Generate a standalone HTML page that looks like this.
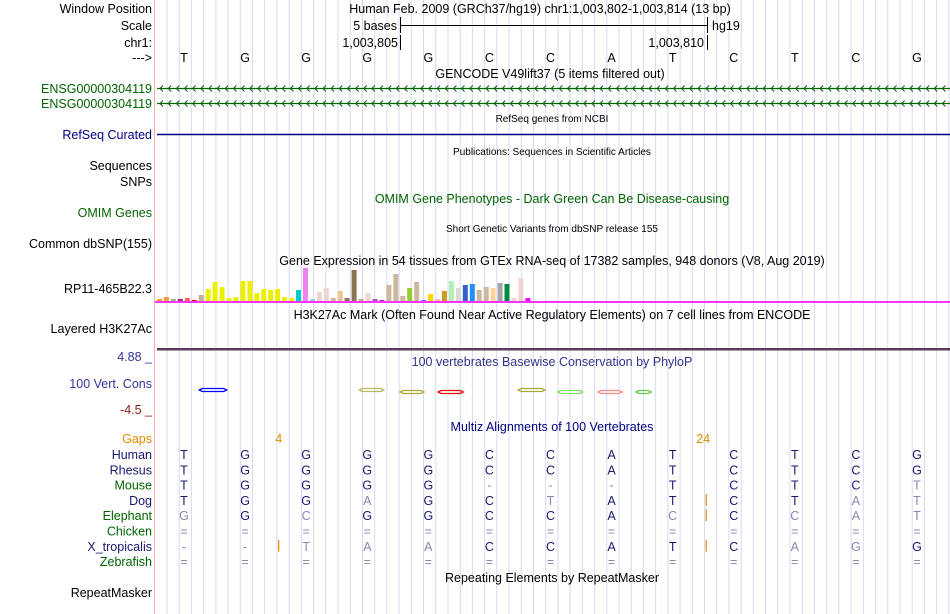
<!DOCTYPE html>
<html><head><meta charset="utf-8"><style>
html,body{margin:0;padding:0;background:#fff;}
svg{display:block;font-family:"Liberation Sans",sans-serif;}
</style></head><body>
<svg id="c" width="950" height="614" xmlns="http://www.w3.org/2000/svg">
<g id="grid"></g>
<line x1="154.5" y1="0" x2="154.5" y2="614" stroke="#ffaaaa" stroke-width="1"/>
<g font-size="12.5" fill="#000" text-anchor="end">
<text x="152" y="13">Window Position</text>
<text x="152" y="30">Scale</text>
<text x="152" y="47">chr1:</text>
<text x="152" y="62">---&gt;</text>
<text x="152" y="93" fill="#006400">ENSG00000304119</text>
<text x="152" y="108" fill="#006400">ENSG00000304119</text>
<text x="152" y="139" fill="#000080">RefSeq Curated</text>
<text x="152" y="170">Sequences</text>
<text x="152" y="186">SNPs</text>
<text x="152" y="217" fill="#006400">OMIM Genes</text>
<text x="152" y="248">Common dbSNP(155)</text>
<text x="152" y="293">RP11-465B22.3</text>
<text x="152" y="333">Layered H3K27Ac</text>
<text x="152" y="361" fill="#333399">4.88 _</text>
<text x="152" y="388" fill="#333399">100 Vert. Cons</text>
<text x="152" y="414" fill="#8b1a1a">-4.5 _</text>
<text x="152" y="443" fill="#e08a00">Gaps</text>
<text x="152" y="597">RepeatMasker</text>
</g>
<g font-size="12.5" text-anchor="middle">
<text x="540" y="13">Human Feb. 2009 (GRCh37/hg19)   chr1:1,003,802-1,003,814 (13 bp)</text>
<text x="550" y="78">GENCODE V49lift37 (5 items filtered out)</text>
<text x="552" y="122" font-size="10">RefSeq genes from NCBI</text>
<text x="552" y="155" font-size="10">Publications: Sequences in Scientific Articles</text>
<text x="552" y="203" fill="#006400">OMIM Gene Phenotypes - Dark Green Can Be Disease-causing</text>
<text x="552" y="232" font-size="10">Short Genetic Variants from dbSNP release 155</text>
<text x="552" y="265">Gene Expression in 54 tissues from GTEx RNA-seq of 17382 samples, 948 donors (V8, Aug 2019)</text>
<text x="552" y="319">H3K27Ac Mark (Often Found Near Active Regulatory Elements) on 7 cell lines from ENCODE</text>
<text x="552" y="366" fill="#333388">100 vertebrates Basewise Conservation by PhyloP</text>
<text x="552" y="431" fill="#000080">Multiz Alignments of 100 Vertebrates</text>
<text x="552" y="582">Repeating Elements by RepeatMasker</text>
</g>
<g stroke="#000">
<line x1="400.5" y1="17" x2="400.5" y2="33"/><line x1="400" y1="25.5" x2="707" y2="25.5"/><line x1="707.5" y1="17" x2="707.5" y2="33"/>
<line x1="400.5" y1="35" x2="400.5" y2="50"/><line x1="707.5" y1="35" x2="707.5" y2="50"/>
</g>
<g font-size="12.5">
<text x="397" y="30" text-anchor="end">5 bases</text>
<text x="712" y="30">hg19</text>
<text x="398" y="47" text-anchor="end">1,003,805</text>
<text x="704" y="47" text-anchor="end">1,003,810</text>
</g>
<g id="bases" font-size="12.5" text-anchor="middle"></g>
<g id="genes"></g>
<line x1="157" y1="134.5" x2="950" y2="134.5" stroke="#000080" stroke-width="1.5"/>
<g id="gtex"></g>
<rect x="155" y="301" width="795" height="2" fill="#ff33ff"/>
<rect x="157" y="348" width="793" height="2.5" fill="#5a3a55"/>
<g id="cons"></g>
<g id="align" font-size="12.5" text-anchor="middle"></g>
</svg>
<script>
const bases = ["T","G","G","G","G","C","C","A","T","C","T","C","G"];
const gtexValues = [2,4,2,2,3,1,6,12,19,14,3,4,20,20,8,12,11,12,4,3,11,33,2,9,13,3,10,3,31,2,8,2,1,16,27,5,13,19,1,7,2,10,20,13,16,17,11,14,13,18,17,3,23,3];
const gtexColors = ["#ff9933","#ff9933","#88bb88","#993366","#ff6655","#ff0000","#c4ae96","#eeee00","#eeee00","#eeee00","#eeee00","#eeee00","#eeee00","#eeee00","#eeee00","#eeee00","#eeee00","#eeee00","#eeee00","#eeee00","#00cccc","#ee82ee","#99cccc","#eed5d2","#eed5d2","#cdb79e","#eec591","#8b7355","#8b7355","#cdaa7d","#eed5d2","#b452cd","#9932cc","#cdb79e","#cdb79e","#cdb79e","#9acd32","#cdb79e","#7777ff","#ffd700","#ffb6c1","#cd9b1d","#b4eeb4","#d9d9d9","#3a5fcd","#1e90ff","#cdb79e","#cdb79e","#ffd39b","#a6a6a6","#008b45","#eed5d2","#eed5d2","#ff00ff"];
const species = ["Human","Rhesus","Mouse","Dog","Elephant","Chicken","X_tropicalis","Zebrafish"];
const speciesColors = ["#191970","#191970","#006400","#191970","#006400","#006400","#191970","#006400"];
const alignRows = [
 "TGGGGCCATCTCG",
 "TGGGGCCATCTCG",
 "TGGGG---TCTCt",
 "TGGaGCtATCTat",
 "gGcGGCCAcCcat",
 "=============",
 "--taaCCATCagG",
 "============="
];
const gapLabels = [["4",1.55],["24",8.5]];
const gapBars = [[6,1.55],[3,8.55],[4,8.55],[6,8.55]];
const consStart = [0.25,2.87,3.54,4.16,5.47,6.12,6.78,7.4];
const consEnd = [0.7,3.27,3.93,4.57,5.91,6.53,7.17,7.65];
const consValues = [0,0,2,2,0,2,2,2];
const consColors = ["#0000ff","#b8b860","#aaaa33","#ff0000","#aaaa33","#88dd66","#ff8888","#66cc44"];

const NS="http://www.w3.org/2000/svg";
const X0=184, BW=61.08;
function bx(i){return X0+BW*i;}
function mk(tag,attrs,parent){const e=document.createElementNS(NS,tag);for(const k in attrs)e.setAttribute(k,attrs[k]);parent.appendChild(e);return e;}

const grid=document.getElementById('grid');
for(let x=167;x<950;x+=12.216){
 const l=mk('line',{x1:x.toFixed(1),y1:0,x2:x.toFixed(1),y2:614,stroke:'#d8d8f4','stroke-width':1},grid);
 
 
}
const bg=document.getElementById('bases');
bases.forEach((b,i)=>{const t=mk('text',{x:bx(i),y:62},bg);t.textContent=b;
 
 });

const genes=document.getElementById('genes');
[88,103].forEach((y,k)=>{
 const l=mk('line',{x1:157,y1:y+0.5,x2:950,y2:y+0.5,stroke:'#006400','stroke-width':1.3},genes);
 
 
 let d='';for(let x=160;x<948;x+=8.15){d+=`M${(x+3).toFixed(1)} ${y-2.5}L${x.toFixed(1)} ${y+0.5}L${(x+3).toFixed(1)} ${y+3.5}`;}
 const p=mk('path',{d:d,stroke:'#006400',fill:'none','stroke-width':1},genes);
 
 
});

const gtex=document.getElementById('gtex');
const GX0=157, GSTEP=6.95, BASE=301, SCALE=1.0;
gtexValues.forEach((v,i)=>{
 const h=v*SCALE;
 const r=mk('rect',{x:(GX0+GSTEP*i).toFixed(1),y:(BASE-h).toFixed(1),width:5,height:h.toFixed(1),fill:gtexColors[i]},gtex);
 
 
});

const cons=document.getElementById('cons');
consStart.forEach((s,i)=>{
 const x1=bx(s), x2=bx(consEnd[i]), y=390+consValues[i];
 const p=mk('path',{d:`M${x1} ${y}L${x1+3} ${y-1.5}L${x2-3} ${y-1.5}L${x2} ${y}L${x2-3} ${y+1.5}L${x1+3} ${y+1.5}Z`,stroke:consColors[i],fill:'none','stroke-width':1.3},cons);
 
 
});

const al=document.getElementById('align');
gapLabels.forEach(g=>{const t=mk('text',{x:bx(g[1]),y:443,fill:'#e08a00'},al);t.textContent=g[0];
 
 });
species.forEach((s,r)=>{
 const y=459+r*15.3;
 const lab=mk('text',{x:152,y:y,fill:speciesColors[r],'text-anchor':'end'},al);lab.textContent=s;
 
 
 alignRows[r].split('').forEach((c,i)=>{
  const dark = c!=='-' && c!=='=' && c===c.toUpperCase();
  const t=mk('text',{x:bx(i),y:y,fill:dark?'#1a1a6e':'#8888b0'},al);t.textContent=c.toUpperCase();
  
  
 });
});
gapBars.forEach(g=>{
 const y=459+g[0]*15.3;
 const l=mk('line',{x1:bx(g[1]),y1:y-11,x2:bx(g[1]),y2:y+1,stroke:'#e08a00','stroke-width':1.2},al);
 
 
});
</script>
</body></html>
